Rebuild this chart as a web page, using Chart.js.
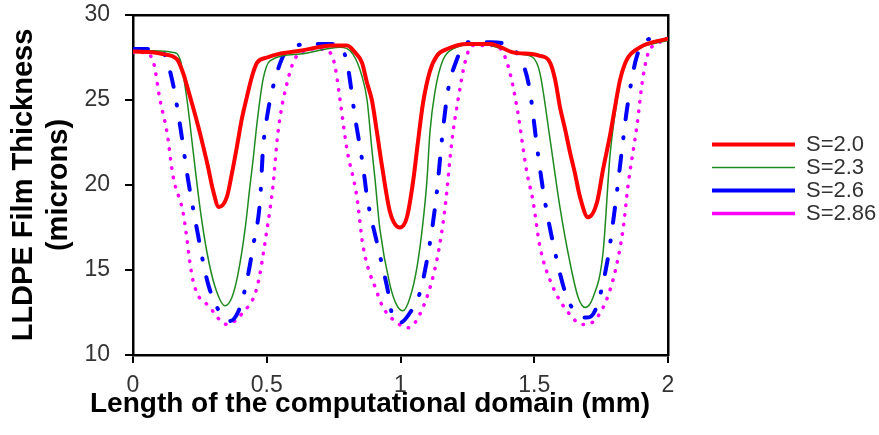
<!DOCTYPE html>
<html>
<head>
<meta charset="utf-8">
<script src="https://cdn.jsdelivr.net/npm/chart.js@4"></script>
<style>
  body { margin: 0; background: #fff; }
  #wrap { width: 879px; height: 435px; }
</style>
</head>
<body>
<div id="wrap"><canvas id="myChart"></canvas></div>
<script>
'use strict';

// Axis ticks
const xTicks = [0, 0.5, 1, 1.5, 2];
const yTicks = [10, 15, 20, 25, 30];

// Series names
const seriesNames = ['S=2.0', 'S=2.3', 'S=2.6', 'S=2.86'];

// S=2.0
const s20X = [0, 0.08, 0.112, 0.164, 0.187, 0.206, 0.224, 0.243, 0.262, 0.280, 0.299, 0.321, 0.351, 0.370, 0.389, 0.407, 0.426, 0.445, 0.464, 0.501, 0.542, 0.624, 0.748, 0.800, 0.830, 0.856, 0.875, 0.893, 0.912, 0.931, 0.961, 0.998, 1.024, 1.047, 1.065, 1.084, 1.110, 1.136, 1.174, 1.249, 1.335, 1.421, 1.521, 1.559, 1.578, 1.596, 1.615, 1.634, 1.652, 1.671, 1.701, 1.735, 1.757, 1.783, 1.802, 1.821, 1.847, 1.895, 1.944, 2.0];
const s20Y = [27.85, 27.8, 27.7, 27.4, 26.6, 25.6, 24.6, 23.5, 22.3, 21.1, 19.7, 18.7, 19.3, 20.7, 22.3, 23.9, 25.2, 26.4, 27.2, 27.5, 27.7, 27.9, 28.2, 28.2, 27.8, 27.2, 26.0, 25.0, 23.1, 21.1, 18.4, 17.5, 18.1, 20.2, 22.5, 24.8, 26.7, 27.6, 28.0, 28.3, 28.3, 27.8, 27.6, 27.2, 26.2, 24.6, 23.3, 21.9, 20.7, 19.3, 18.1, 19.0, 20.9, 22.9, 24.6, 26.2, 27.4, 28.1, 28.4, 28.6];

// S=2.3
const s23X = [0, 0.08, 0.15, 0.176, 0.202, 0.224, 0.251, 0.277, 0.307, 0.344, 0.370, 0.393, 0.419, 0.437, 0.449, 0.464, 0.486, 0.512, 0.624, 0.774, 0.822, 0.856, 0.875, 0.893, 0.905, 0.923, 0.961, 0.987, 1.009, 1.036, 1.062, 1.084, 1.099, 1.110, 1.129, 1.155, 1.185, 1.297, 1.447, 1.495, 1.521, 1.559, 1.596, 1.634, 1.664, 1.690, 1.720, 1.757, 1.783, 1.806, 1.832, 1.888, 1.944, 2.0];
const s23Y = [27.9, 27.9, 27.8, 27.4, 25.0, 22.1, 18.6, 16.0, 14.0, 12.9, 13.4, 14.8, 17.4, 19.9, 21.5, 23.7, 26.2, 27.3, 27.7, 28.1, 27.7, 26.4, 25.0, 22.1, 20.3, 17.4, 14.1, 12.9, 12.6, 13.4, 15.2, 17.8, 20.3, 23.1, 25.5, 27.2, 27.9, 28.3, 27.7, 27.5, 26.6, 22.7, 18.7, 15.4, 13.4, 12.8, 13.4, 16.0, 21.7, 24.6, 26.8, 28.0, 28.3, 28.5];

// S=2.6
const s26X = [0, 0.06, 0.112, 0.146, 0.176, 0.206, 0.239, 0.277, 0.314, 0.363, 0.400, 0.426, 0.449, 0.475, 0.486, 0.501, 0.538, 0.576, 0.673, 0.763, 0.800, 0.830, 0.860, 0.875, 0.912, 0.950, 0.972, 0.998, 1.036, 1.073, 1.110, 1.136, 1.155, 1.178, 1.204, 1.249, 1.335, 1.421, 1.465, 1.484, 1.510, 1.533, 1.570, 1.622, 1.671, 1.697, 1.727, 1.772, 1.802, 1.828, 1.847, 1.884, 1.944, 2.0];
const s26Y = [28.0, 28.0, 27.8, 26.2, 23.5, 20.3, 17.4, 14.4, 12.8, 12.0, 12.8, 14.4, 16.4, 19.1, 22.1, 24.0, 26.6, 27.9, 28.3, 28.3, 27.2, 24.0, 21.1, 19.3, 16.6, 14.0, 12.2, 11.9, 12.5, 13.7, 16.6, 19.6, 22.7, 25.6, 27.1, 28.4, 28.4, 28.0, 26.8, 25.5, 22.3, 19.7, 16.6, 13.4, 12.3, 12.2, 12.6, 15.4, 18.7, 22.1, 24.5, 27.6, 28.6, 28.6];

// S=2.86
const s286X = [0, 0.04, 0.075, 0.101, 0.127, 0.150, 0.187, 0.224, 0.288, 0.351, 0.411, 0.464, 0.501, 0.523, 0.542, 0.576, 0.613, 0.688, 0.736, 0.755, 0.774, 0.800, 0.837, 0.860, 0.912, 0.935, 0.987, 1.028, 1.084, 1.136, 1.166, 1.193, 1.215, 1.241, 1.267, 1.346, 1.383, 1.409, 1.436, 1.473, 1.495, 1.521, 1.559, 1.622, 1.682, 1.735, 1.794, 1.832, 1.850, 1.884, 1.907, 1.933, 2.0];
const s286Y = [27.8, 27.8, 27.3, 25.0, 23.1, 20.5, 18.4, 14.4, 12.8, 11.8, 12.5, 14.0, 17.4, 19.9, 23.1, 26.0, 27.6, 28.0, 27.8, 27.0, 25.0, 22.1, 19.3, 16.4, 13.7, 12.8, 11.9, 11.6, 12.8, 15.6, 18.6, 22.7, 25.0, 27.2, 28.2, 28.2, 27.8, 26.6, 24.5, 20.7, 19.1, 16.4, 14.4, 12.6, 11.8, 12.2, 14.4, 17.4, 19.9, 23.5, 26.4, 28.0, 28.5];

const fontFamily = "'Liberation Sans', Arial, sans-serif";

// Helper: pair x and y lists into points
function toPoints(xs, ys){
  let pts = [];
  for(let i = 0; i < xs.length; i++){
    pts.push({x: xs[i], y: ys[i]});
  }
  return pts;
}

// moves legend and bottom title a bit to sit where they are in the picture
const nudge = {
  id: 'nudge',
  afterLayout(chart){
    const lg = chart.legend;
    lg.top -= 6;
    lg.bottom -= 6;
    const tb = chart.titleBlock;
    tb.left -= 71;
    tb.right -= 71;
    tb.top -= 10;
    tb.bottom -= 10;
  }
};

const ctx = document.getElementById('myChart');

new Chart(ctx, {
  type: 'line',
  data: {
    datasets: [
      {
        label: seriesNames[0],
        data: toPoints(s20X, s20Y),
        borderColor: '#ff0000',
        backgroundColor: '#ff0000',
        borderWidth: 4,
        borderCapStyle: 'round',
        borderJoinStyle: 'round'
      },
      {
        label: seriesNames[1],
        data: toPoints(s23X, s23Y),
        borderColor: '#1f8a1f',
        backgroundColor: '#1f8a1f',
        borderWidth: 1.5
      },
      {
        label: seriesNames[2],
        data: toPoints(s26X, s26Y),
        borderColor: '#0000ff',
        backgroundColor: '#0000ff',
        borderWidth: 4,
        borderDash: [15, 18, 1, 18],
        borderCapStyle: 'round'
      },
      {
        label: seriesNames[3],
        data: toPoints(s286X, s286Y),
        borderColor: '#ff00ff',
        backgroundColor: '#ff00ff',
        borderWidth: 3.5,
        borderDash: [0.5, 9],
        borderCapStyle: 'round'
      }
    ]
  },
  options: {
    responsive: true,
    maintainAspectRatio: false,
    animation: false,
    elements: {
      point: { radius: 0 },
      line: { cubicInterpolationMode: 'monotone', fill: false }
    },
    layout: {
      padding: { left: 3, right: 0, top: 15, bottom: 4.4 }
    },
    plugins: {
      tooltip: { enabled: false },
      legend: {
        position: 'right',
        fullSize: false,
        maxWidth: 168,
        labels: {
          usePointStyle: true,
          pointStyle: 'line',
          pointStyleWidth: 83,
          boxWidth: 83,
          padding: 1,
          color: '#333',
          font: { family: fontFamily, size: 22 }
        }
      },
      title: {
        display: true,
        position: 'bottom',
        text: 'Length of the computational domain (mm)',
        color: '#000',
        padding: { top: 0, bottom: 0 },
        font: { family: fontFamily, size: 28, weight: 'bold' }
      }
    },
    scales: {
      x: {
        type: 'linear',
        position: 'bottom',
        min: xTicks[0],
        max: xTicks[xTicks.length - 1],
        afterBuildTicks: (s) => { s.ticks = xTicks.map(v => ({value: v})); },
        afterFit: (s) => { s.height = 42; },
        ticks: {
          padding: 9,
          color: '#333',
          font: { family: fontFamily, size: 23 },
          callback: (v) => String(v)
        },
        grid: {
          drawOnChartArea: false,
          drawTicks: true,
          tickLength: 8,
          color: '#000',
          lineWidth: 2
        },
        border: { display: true, color: '#000', width: 2.5 }
      },
      y: {
        type: 'linear',
        position: 'left',
        min: yTicks[0],
        max: yTicks[yTicks.length - 1],
        afterBuildTicks: (s) => { s.ticks = yTicks.map(v => ({value: v})); },
        afterFit: (s) => {
          s.width = 130;
          s.paddingTop = 0;
          s.paddingBottom = 0;
        },
        ticks: {
          padding: 15,
          color: '#333',
          font: { family: fontFamily, size: 23 },
          callback: (v) => String(v)
        },
        grid: {
          drawOnChartArea: false,
          drawTicks: true,
          tickLength: 8,
          color: '#000',
          lineWidth: 2
        },
        border: { display: true, color: '#000', width: 2.5 },
        title: {
          display: true,
          text: ['LLDPE Film Thickness', '(microns)'],
          color: '#000',
          padding: { top: 3.6, bottom: 0 },
          font: { family: fontFamily, size: 29, weight: 'bold' }
        }
      },
      x2: {
        type: 'linear',
        position: 'top',
        min: 0,
        max: 2,
        display: true,
        afterFit: (s) => { s.height = 0; },
        ticks: { display: false },
        grid: { display: false, drawTicks: false },
        border: { display: true, color: '#000', width: 2.5 }
      },
      y2: {
        type: 'linear',
        position: 'right',
        min: 10,
        max: 30,
        display: true,
        afterFit: (s) => { s.width = 43; },
        ticks: { display: false },
        grid: { display: false, drawTicks: false },
        border: { display: true, color: '#000', width: 2.5 }
      }
    }
  },
  plugins: [nudge]
});
</script>
</body>
</html>
